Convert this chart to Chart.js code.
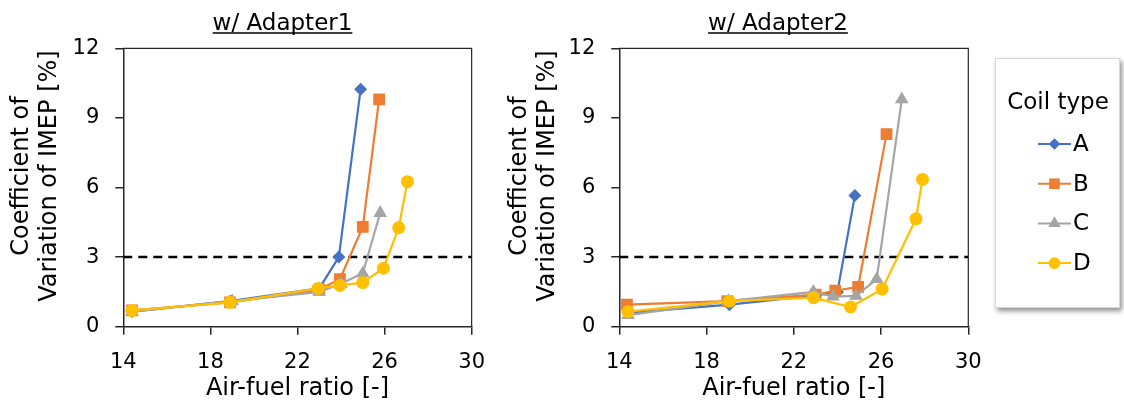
<!DOCTYPE html>
<html><head><meta charset="utf-8">
<script src="https://cdn.jsdelivr.net/npm/chart.js@4.4.1/dist/chart.umd.min.js"></script>
<style>
html,body{margin:0;padding:0;background:#fff;}
#wrap{position:relative;width:1124px;height:403px;overflow:hidden;background:#fff;}
#c1wrap{position:absolute;left:0;top:0;width:500px;height:403px;}
#c2wrap{position:absolute;left:484px;top:0;width:640px;height:403px;}
</style></head><body>
<div id="wrap"><div id="c1wrap"><canvas id="c1"></canvas></div><div id="c2wrap"><canvas id="c2"></canvas></div></div>
<script>
// ---- data ----
const seriesNames = ['A', 'B', 'C', 'D'];
const chartTitles = ['w/ Adapter1', 'w/ Adapter2'];
const legendTitle = 'Coil type';
const xTitle = 'Air-fuel ratio [-]';
const yTitleLines = ['Coefficient of', 'Variation of IMEP [%]'];
const xTicks = [14, 18, 22, 26, 30];
const yTicks = [0, 3, 6, 9, 12];
const threshold = 3;

// w/ Adapter1
const afr1_A = [14.4, 18.9, 23.0, 23.9, 24.9];
const cov1_A = [0.65, 1.1, 1.65, 3.0, 10.23];
const afr1_B = [14.4, 18.9, 23.0, 23.95, 25.0, 25.75];
const cov1_B = [0.7, 1.05, 1.6, 2.05, 4.3, 9.8];
const afr1_C = [14.4, 19.0, 23.0, 24.0, 25.0, 25.8];
const cov1_C = [0.65, 1.1, 1.5, 1.85, 2.3, 4.9];
const afr1_D = [14.4, 18.9, 22.95, 23.95, 25.0, 25.95, 26.65, 27.05];
const cov1_D = [0.7, 1.05, 1.65, 1.78, 1.9, 2.52, 4.27, 6.25];

// w/ Adapter2
const afr2_A = [14.4, 19.05, 23.0, 24.0, 24.8];
const cov2_A = [0.6, 0.95, 1.35, 1.5, 5.65];
const afr2_B = [14.35, 18.95, 23.0, 23.9, 24.95, 26.25];
const cov2_B = [0.95, 1.1, 1.38, 1.55, 1.72, 8.3];
const afr2_C = [14.4, 19.0, 22.9, 23.8, 24.85, 25.8, 26.95];
const cov2_C = [0.5, 1.1, 1.5, 1.3, 1.33, 2.05, 9.8];
const afr2_D = [14.4, 19.05, 22.9, 24.6, 26.05, 27.6, 27.9];
const cov2_D = [0.65, 1.1, 1.25, 0.85, 1.62, 4.65, 6.35];

// ---- styling ----
const FONT = 'DejaVu Sans';
const TEXT = '#000';
const AXIS = '#262626';
const styles = {
  A: {color: '#4472C4', pointStyle: 'rectRot', radius: 6.5, order: 4},
  B: {color: '#ED7D31', pointStyle: 'rect', radius: 8.3, order: 3},
  C: {color: '#A5A5A5', pointStyle: 'triangle', radius: 7.9, order: 2},
  D: {color: '#FFC000', pointStyle: 'circle', radius: 6.5, order: 1}
};

function pts(xs, ys) { return xs.map((x, i) => ({x: x, y: ys[i]})); }

function makeDatasets(sets) {
  const ds = seriesNames.map((n, i) => {
    const s = styles[n];
    return {
      label: n,
      data: pts(sets[i][0], sets[i][1]),
      borderColor: s.color,
      backgroundColor: s.color,
      borderWidth: 2.2,
      pointStyle: s.pointStyle,
      pointRadius: s.radius,
      pointHoverRadius: s.radius,
      pointBorderWidth: 0,
      pointBackgroundColor: s.color,
      showLine: true,
      fill: false,
      tension: 0,
      order: s.order
    };
  });
  ds.push({
    label: 'threshold',
    data: [{x: xTicks[0], y: threshold}, {x: xTicks[xTicks.length - 1], y: threshold}],
    borderColor: '#000',
    borderWidth: 2.5,
    borderDash: [9, 6],
    pointRadius: 0,
    showLine: true,
    fill: false,
    order: 10
  });
  return ds;
}

const decorPlugin = {
  id: 'decor',
  afterDraw(chart, args, opts) {
    const ctx = chart.ctx;
    const ca = chart.chartArea;
    ctx.save();
    // plot box (top & right sides)
    ctx.strokeStyle = AXIS;
    ctx.lineWidth = 1.2;
    ctx.beginPath();
    ctx.moveTo(ca.left, ca.top);
    ctx.lineTo(ca.right, ca.top);
    ctx.lineTo(ca.right, ca.bottom);
    ctx.stroke();
    // title with underline
    ctx.font = '23px "' + FONT + '"';
    ctx.fillStyle = TEXT;
    ctx.textAlign = 'center';
    ctx.textBaseline = 'alphabetic';
    ctx.fillText(opts.title, opts.titleX, 30);
    const w = ctx.measureText(opts.title).width;
    ctx.strokeStyle = TEXT;
    ctx.lineWidth = 1.5;
    ctx.beginPath();
    ctx.moveTo(opts.titleX - w / 2, 33);
    ctx.lineTo(opts.titleX + w / 2, 33);
    ctx.stroke();

    if (opts.legend) {
      const L = opts.legend;
      ctx.save();
      ctx.shadowColor = 'rgba(0,0,0,0.45)';
      ctx.shadowBlur = 5;
      ctx.shadowOffsetX = 2;
      ctx.shadowOffsetY = 3;
      ctx.fillStyle = '#fff';
      ctx.fillRect(L.x, L.y, L.w, L.h);
      ctx.restore();
      ctx.strokeStyle = '#d9d9d9';
      ctx.lineWidth = 1;
      ctx.strokeRect(L.x + 0.5, L.y + 0.5, L.w - 1, L.h - 1);
      ctx.fillStyle = TEXT;
      ctx.font = '23px "' + FONT + '"';
      ctx.textAlign = 'center';
      ctx.textBaseline = 'middle';
      ctx.fillText(legendTitle, L.titleX, L.titleY);
      const dsets = chart.data.datasets.filter(d => seriesNames.includes(d.label));
      dsets.forEach((d, i) => {
        const y = L.itemY0 + i * L.itemDy;
        ctx.strokeStyle = d.borderColor;
        ctx.lineWidth = 2;
        ctx.beginPath();
        ctx.moveTo(L.lineX0, y);
        ctx.lineTo(L.lineX1, y);
        ctx.stroke();
        ctx.fillStyle = d.borderColor;
        Chart.helpers.drawPoint(ctx, {pointStyle: d.pointStyle, radius: d.pointRadius * 0.9, rotation: 0, borderWidth: 0}, (L.lineX0 + L.lineX1) / 2, y);
        ctx.fillStyle = TEXT;
        ctx.textAlign = 'left';
        ctx.textBaseline = 'middle';
        ctx.fillText(d.label, L.textX, y + 1);
      });
    }
    ctx.restore();
  }
};

function makeChart(id, sets, cfg) {
  return new Chart(document.getElementById(id), {
    type: 'scatter',
    data: {datasets: makeDatasets(sets)},
    plugins: [decorPlugin],
    options: {
      responsive: true,
      maintainAspectRatio: false,
      animation: false,
      devicePixelRatio: 1,
      layout: {padding: {left: 0, top: 48.3, right: cfg.padRight, bottom: 0}},
      plugins: {
        legend: {display: false},
        title: {display: false},
        tooltip: {enabled: false},
        decor: {title: cfg.title, titleX: cfg.titleX, legend: cfg.legend}
      },
      scales: {
        x: {
          type: 'linear',
          min: xTicks[0],
          max: xTicks[xTicks.length - 1],
          afterBuildTicks: s => { s.ticks = xTicks.map(v => ({value: v})); },
          afterFit: s => { s.height = 76.3; },
          grid: {drawOnChartArea: false, drawTicks: true, tickLength: 8, color: AXIS, lineWidth: 1.5},
          border: {color: AXIS, width: 1.5},
          ticks: {font: {family: FONT, size: 21}, color: TEXT, padding: 15, maxRotation: 0, autoSkip: false},
          title: {display: true, text: xTitle, color: TEXT, font: {family: FONT, size: 24, lineHeight: 1.2}, padding: {top: 0, bottom: 0}}
        },
        y: {
          type: 'linear',
          min: yTicks[0],
          max: yTicks[yTicks.length - 1],
          afterBuildTicks: s => { s.ticks = yTicks.map(v => ({value: v})); },
          afterFit: s => { s.width = cfg.yWidth; },
          grid: {drawOnChartArea: false, drawTicks: true, tickLength: 8, color: AXIS, lineWidth: 1.5},
          border: {color: AXIS, width: 1.5},
          ticks: {font: {family: FONT, size: 21}, color: TEXT, padding: 16, autoSkip: false},
          title: {display: true, text: yTitleLines.map(t => '\u00a0\u00a0\u00a0' + t), color: TEXT, font: {family: FONT, size: 24, lineHeight: 1.19}, padding: {top: cfg.yTitlePad, bottom: 0}}
        }
      }
    }
  });
}

makeChart('c1', [[afr1_A, cov1_A], [afr1_B, cov1_B], [afr1_C, cov1_C], [afr1_D, cov1_D]], {
  padRight: 27.7, yWidth: 123.3, yTitlePad: 7, title: chartTitles[0], titleX: 282.5
});
makeChart('c2', [[afr2_A, cov2_A], [afr2_B, cov2_B], [afr2_C, cov2_C], [afr2_D, cov2_D]], {
  padRight: 155.7, yWidth: 135.3, yTitlePad: 21, title: chartTitles[1], titleX: 778 - 484,
  legend: {x: 995 - 484, y: 58, w: 125, h: 250, titleX: 1058 - 484, titleY: 103,
           itemY0: 144, itemDy: 39.7, lineX0: 1038 - 484, lineX1: 1071 - 484, textX: 1073 - 484}
});
</script>
</body></html>
